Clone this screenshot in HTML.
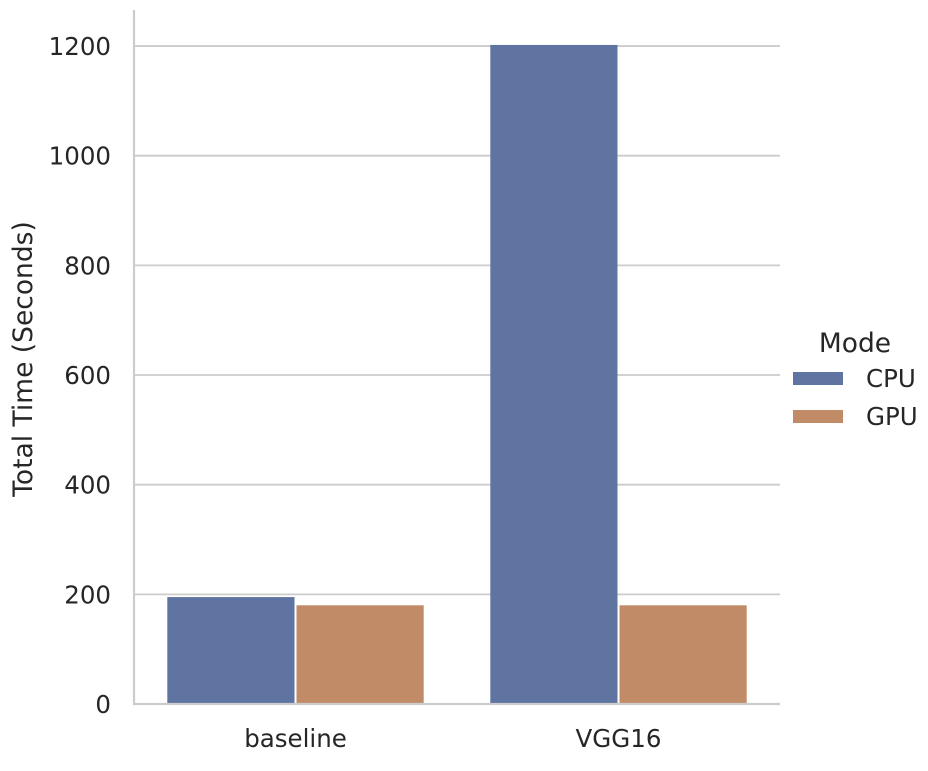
<!DOCTYPE html>
<html><head><meta charset="utf-8"><style>
body{margin:0;background:#fff;}
svg text{font-family:"DejaVu Sans","Liberation Sans",sans-serif;fill:#262626;}
</style></head><body>
<svg id="chart" width="928" height="766"></svg>
<script>
const categories=["baseline","VGG16"];
const seriesNames=["CPU","GPU"];
const cpuValues=[195,1202];
const gpuValues=[180,180];
const yTicks=[0,200,400,600,800,1000,1200];
const colors=["#5f74a1","#c18b67"];
const NS="http://www.w3.org/2000/svg";
const svg=document.getElementById('chart');
const x0=134,x1=780,y0=704,ppu=0.5483;
const yScale=v=>y0-v*ppu;
const band=(x1-x0)/categories.length;
const catCenter=i=>x0+band*(i+0.5);
const barW=band*0.8/2;
function mk(tag,attrs,txt){const e=document.createElementNS(NS,tag);for(const k in attrs)e.setAttribute(k,attrs[k]);if(txt!==undefined)e.textContent=txt;svg.appendChild(e);return e;}
yTicks.forEach(t=>{
  const g=mk('line',{x1:x0,x2:x1,y1:yScale(t),y2:yScale(t),stroke:'#cccccc','stroke-width':1.8});
  
  
  const l=mk('text',{x:111,y:yScale(t)+9,'text-anchor':'end','font-size':24.5},String(t));
  
  
});
[cpuValues,gpuValues].forEach((vals,s)=>{
  vals.forEach((v,i)=>{
    const x=catCenter(i)-barW+s*barW;
    const r=mk('rect',{x:x+1,y:yScale(v),width:barW-2,height:y0-yScale(v),fill:colors[s]});
    
    
  });
});
categories.forEach((c,i)=>{
  const t=mk('text',{x:catCenter(i),y:747,'text-anchor':'middle','font-size':24.5},c);
  
  
});
const ax=mk('line',{x1:x0,x2:x0,y1:10,y2:y0+1,stroke:'#cccccc','stroke-width':2.2});


const bx=mk('line',{x1:x0-1,x2:x1,y1:y0,y2:y0,stroke:'#cccccc','stroke-width':2.2});


const yt=mk('text',{x:0,y:0,transform:'translate(32,359) rotate(-90)','text-anchor':'middle','font-size':26.5},'Total Time (Seconds)');


const lt=mk('text',{x:855,y:352,'text-anchor':'middle','font-size':26.5},'Mode');


seriesNames.forEach((n,s)=>{
  const y=372+s*38;
  const p=mk('rect',{x:793,y:y,width:50,height:13,fill:colors[s]});
  
  
  const t=mk('text',{x:866,y:y+15,'font-size':24.5},n);
  
  
});
</script>
</body></html>
